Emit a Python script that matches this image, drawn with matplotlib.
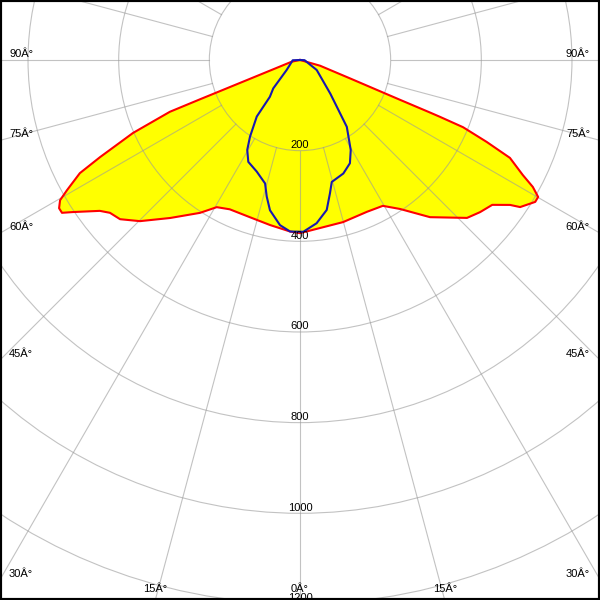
import numpy as np
import matplotlib
matplotlib.use('Agg')
import matplotlib.pyplot as plt
from matplotlib.patches import Circle
from matplotlib.transforms import offset_copy

# C0-C180 plane (red, filled): gamma in degrees, intensity in cd
red_angles = [-90, -78.4, -72, -69.8, -69.1, -68.75, -68.55, -68.3, -66.4, -64.1,
              -62.8, -60.8, -59.7, -58.4, -57.3, -56.2, -53.0, -51.2, -48.5, -44.8,
              -39.4, -33.2, -29.5, -25.2, -17.7, -10.3, -3.3, 0, 14.9, 23.8,
              29.6, 33.9, 39.6, 46.6, 49.8, 53.0, 55.4, 56.25, 58.9, 60.1,
              61.4, 62.7, 65.0, 66.3, 67.6, 67.9, 68.0, 68.3, 69.8, 74.1, 90]
red_values = [0, 19, 46, 94, 142, 189, 237, 309, 402, 490,
              546, 589, 613, 624, 624, 603, 553, 538, 530, 501,
              451, 403, 373, 364, 364, 370, 379, 382, 370, 366,
              370, 396, 450, 507, 520, 531, 563, 584, 606, 606,
              585, 553, 511, 450, 389, 333, 309, 237, 118, 46, 0]

# C90-C270 plane (blue)
blue_angles = [-90, -88, -53.1, -43.3, -39.3, -37.4, -33.1, -30.4, -26.9, -21.2,
               -15.8, -13.7, -11.3, -6.9, -3.3, 1.1, 5.8, 10.1, 12.7, 14.6,
               20.9, 25.8, 29.4, 35.0, 42.0, 59.1, 88, 90]
blue_values = [0, 16, 37, 86, 105, 157, 202, 230, 252, 264,
               283, 310, 338, 367, 379, 379, 362, 336, 301, 278,
               268, 253, 228, 180, 100, 43, 10, 0]

ring_values = [200, 400, 600, 800, 1000, 1200]
ring_labels = ['200', '400', '600', '800', '1000', '1200']
side_angles = [90, 75, 60, 45, 30]
bottom_angles = [15, 0]

scale = 90.66 / 200.0          # pixels per cd
half_w = 300 / scale
top = 60 / scale
bottom = -540 / scale


def to_xy(angles, values):
    g = np.radians(angles)
    v = np.array(values, dtype=float)
    return v * np.sin(g), -v * np.cos(g)


fig = plt.figure(figsize=(6, 6), dpi=100)
ax = fig.add_axes([0, 0, 1, 1])
ax.set_xlim(-half_w, half_w)
ax.set_ylim(bottom, top)
ax.set_aspect('equal')
ax.set_xticks([])
ax.set_yticks([])
for sp in ax.spines.values():
    sp.set_linewidth(3)
    sp.set_color('black')

grid_kw = dict(color='#9a9a9a', alpha=0.6, lw=0.8, zorder=2)
for r in ring_values:
    ax.add_patch(Circle((0, 0), r, fill=False, ec='#9a9a9a', alpha=0.6, lw=0.8, zorder=2))
for a in range(0, 360, 15):
    t = np.radians(a)
    ax.plot([200 * np.sin(t), 3000 * np.sin(t)], [-200 * np.cos(t), -3000 * np.cos(t)], **grid_kw)

rx, ry = to_xy(red_angles, red_values)
bx, by = to_xy(blue_angles, blue_values)
ax.fill(rx, ry, color='#ffff00', lw=0, zorder=1)
ax.plot(rx, ry, color='#ff0000', lw=1.5, zorder=3, solid_joinstyle='round')
ax.plot(bx, by, color='#1818b0', lw=1.5, zorder=4, solid_joinstyle='round')

font = dict(family=['Liberation Sans', 'DejaVu Sans'], fontsize=8, color='black', zorder=5)

for r, lab in zip(ring_values, ring_labels):
    tr = offset_copy(ax.transData, fig=fig, x=0, y=2.5, units='dots')
    ax.text(0, -r, lab, ha='center', va='baseline', transform=tr, **font)

for a in side_angles:
    y = -half_w / np.tan(np.radians(a)) if a != 90 else 0.0
    trl = offset_copy(ax.transData, fig=fig, x=9, y=3, units='dots')
    trr = offset_copy(ax.transData, fig=fig, x=-10, y=3, units='dots')
    ax.text(-half_w, y, f'{a}Â°', ha='left', va='baseline', transform=trl, **font)
    ax.text(half_w, y, f'{a}Â°', ha='right', va='baseline', transform=trr, **font)

for a in bottom_angles:
    x = -bottom * np.tan(np.radians(a))
    tr = offset_copy(ax.transData, fig=fig, x=0, y=8, units='dots')
    ax.text(-x, bottom, f'{a}Â°', ha='center', va='baseline', transform=tr, **font)
    if a != 0:
        ax.text(x, bottom, f'{a}Â°', ha='center', va='baseline', transform=tr, **font)

fig.savefig('out.png', dpi=100)
